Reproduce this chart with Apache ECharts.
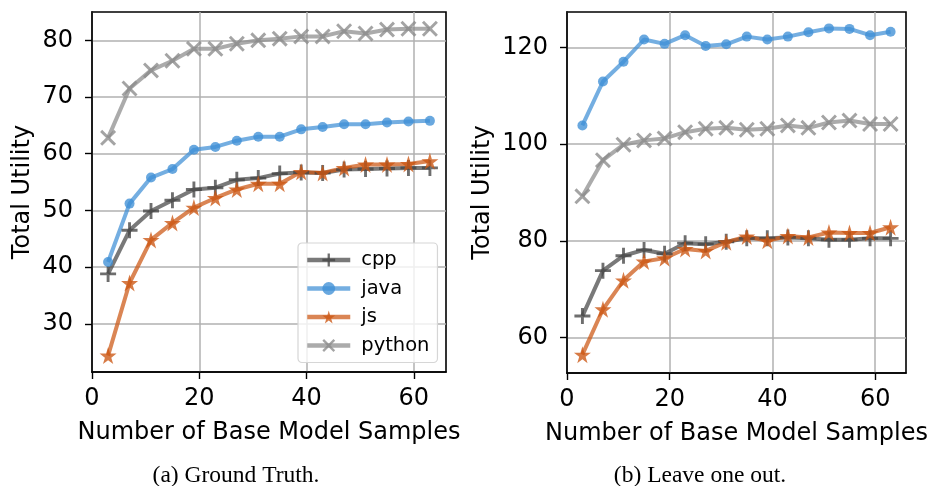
<!DOCTYPE html>
<html>
<head>
<meta charset="utf-8">
<script src="https://cdn.jsdelivr.net/npm/echarts@6/dist/echarts.min.js"></script>
<style>
html,body{margin:0;padding:0;background:#fff;}
#chart{width:932px;height:486px;}
</style>
</head>
<body>
<div id="chart"></div>
<script>
// ---- Data ----
var samples = [3, 7, 11, 15, 19, 23, 27, 31, 35, 39, 43, 47, 51, 55, 59, 63];
var seriesNames = ['cpp', 'java', 'js', 'python'];

// (a) Ground Truth
var gtCpp    = [38.8, 46.5, 49.9, 51.8, 53.7, 54.0, 55.4, 55.7, 56.5, 56.7, 56.6, 57.2, 57.3, 57.4, 57.5, 57.5];
var gtJava   = [40.9, 51.2, 55.8, 57.3, 60.7, 61.2, 62.3, 63.0, 63.0, 64.3, 64.7, 65.2, 65.2, 65.5, 65.7, 65.8];
var gtJs     = [24.4, 37.2, 44.8, 47.8, 50.5, 52.2, 53.7, 54.7, 54.7, 56.8, 56.6, 57.5, 58.1, 58.1, 58.2, 58.7];
var gtPython = [62.8, 71.5, 74.7, 76.4, 78.5, 78.5, 79.4, 80.0, 80.3, 80.7, 80.7, 81.6, 81.2, 81.9, 82.05, 82.05];

// (b) Leave one out
var looCpp    = [64.4, 73.8, 76.9, 78.1, 77.3, 79.5, 79.3, 79.8, 80.5, 80.5, 80.7, 80.5, 80.2, 80.2, 80.5, 80.5];
var looJava   = [103.9, 113.0, 117.1, 121.7, 120.8, 122.6, 120.35, 120.7, 122.3, 121.7, 122.3, 123.2, 124.0, 123.9, 122.6, 123.3];
var looJs     = [56.4, 65.8, 71.8, 75.7, 76.4, 78.3, 77.9, 79.7, 80.9, 80.0, 81.0, 80.7, 81.7, 81.6, 81.6, 82.8];
var looPython = [89.2, 96.7, 99.9, 100.8, 101.2, 102.5, 103.2, 103.4, 103.0, 103.2, 103.9, 103.4, 104.5, 104.9, 104.2, 104.2];

var xTicks = [0, 20, 40, 60];
var yTicksA = [30, 40, 50, 60, 70, 80];
var yTicksB = [60, 80, 100, 120];

var xLabel = 'Number of Base Model Samples';
var yLabel = 'Total Utility';
var captionA = '(a) Ground Truth.';
var captionB = '(b) Leave one out.';

// ---- Styles ----
var FONT = 'DejaVu Sans';
var colors = { cpp: '#454545', java: '#3f8fd6', js: '#cc5612', python: '#8a8a8a' };
var plusPath = 'path://M4.1,0H5.9V4.1H10V5.9H5.9V10H4.1V5.9H0V4.1H4.1Z';
var xPath = 'path://M1.3,0L5,3.7L8.7,0L10,1.3L6.3,5L10,8.7L8.7,10L5,6.3L1.3,10L0,8.7L3.7,5L0,1.3Z';
var starPath = 'path://M50,0L61,35L98,35L68,57L79,91L50,70L21,91L32,57L2,35L39,35Z';
var symbols = {
  cpp: { symbol: plusPath, size: 16 },
  java: { symbol: 'circle', size: 10 },
  js: { symbol: starPath, size: 17 },
  python: { symbol: xPath, size: 16 }
};

function pairs(vals) {
  return samples.map(function (x, i) { return [x, vals[i]]; });
}

function mkSeries(name, vals, idx) {
  return {
    name: name,
    type: 'line',
    xAxisIndex: idx,
    yAxisIndex: idx,
    data: pairs(vals),
    symbol: symbols[name].symbol,
    symbolSize: symbols[name].size,
    showAllSymbol: true,
    color: colors[name],
    lineStyle: { width: 4, color: colors[name], opacity: 0.72 },
    itemStyle: { color: colors[name], opacity: 0.78 },
    emphasis: { disabled: true },
    animation: false
  };
}

function mkX(idx) {
  return {
    type: 'value', gridIndex: idx, min: 0, max: 66,
    name: xLabel, nameLocation: 'middle', nameGap: 49,
    nameTextStyle: { fontFamily: FONT, fontSize: 24, color: '#000' },
    axisLine: { show: true, onZero: false, lineStyle: { color: '#000', width: 1.6 } },
    axisTick: { show: true, inside: false, length: 7, customValues: xTicks, lineStyle: { color: '#000', width: 1.4 } },
    axisLabel: { customValues: xTicks, margin: 15, fontFamily: FONT, fontSize: 24, color: '#000' },
    splitLine: { show: true, lineStyle: { color: '#b0b0b0', width: 1.5 } }
  };
}

function mkY(idx, min, max, ticks, gap) {
  return {
    type: 'value', gridIndex: idx, min: min, max: max,
    name: yLabel, nameLocation: 'middle', nameGap: gap,
    nameTextStyle: { fontFamily: FONT, fontSize: 24, color: '#000' },
    axisLine: { show: true, onZero: false, lineStyle: { color: '#000', width: 1.6 } },
    axisTick: { show: true, inside: false, length: 7, customValues: ticks, lineStyle: { color: '#000', width: 1.4 } },
    axisLabel: { customValues: ticks, margin: 19, fontFamily: FONT, fontSize: 24, color: '#000' },
    splitLine: { show: true, lineStyle: { color: '#b0b0b0', width: 1.5 } }
  };
}

var chart = echarts.init(document.getElementById('chart'), null, { renderer: 'canvas' });
chart.setOption({
  backgroundColor: '#fff',
  animation: false,
  grid: [
    { left: 92, top: 12, width: 354, height: 360, show: true, borderColor: '#000', borderWidth: 1.6, backgroundColor: 'transparent' },
    { left: 567, top: 12, width: 339, height: 361, show: true, borderColor: '#000', borderWidth: 1.6, backgroundColor: 'transparent' }
  ],
  xAxis: [mkX(0), mkX(1)],
  yAxis: [mkY(0, 21.5, 85, yTicksA, 57), mkY(1, 52.6, 127.4, yTicksB, 72)],
  legend: {
    data: seriesNames,
    orient: 'vertical',
    left: 298, top: 243,
    padding: [7, 8, 7, 7],
    itemWidth: 43, itemHeight: 16, itemGap: 8.5,
    lineStyle: { width: 4.5 },
    borderColor: '#d6d6d6', borderWidth: 1.2, borderRadius: 4,
    backgroundColor: 'rgba(255,255,255,0.8)',
    textStyle: { fontFamily: FONT, fontSize: 19.5, color: '#000', padding: [0, 0, 0, 6], lineHeight: 20 },
    selectedMode: false
  },
  graphic: [
    { type: 'text', x: 236, y: 476, style: { text: captionA, font: '23.5px "Liberation Serif"', fill: '#000', textAlign: 'center', textVerticalAlign: 'middle' } },
    { type: 'text', x: 700, y: 476, style: { text: captionB, font: '23.5px "Liberation Serif"', fill: '#000', textAlign: 'center', textVerticalAlign: 'middle' } }
  ],
  series: [
    mkSeries('cpp', gtCpp, 0), mkSeries('java', gtJava, 0), mkSeries('js', gtJs, 0), mkSeries('python', gtPython, 0),
    mkSeries('cpp', looCpp, 1), mkSeries('java', looJava, 1), mkSeries('js', looJs, 1), mkSeries('python', looPython, 1)
  ]
});
</script>
</body>
</html>
